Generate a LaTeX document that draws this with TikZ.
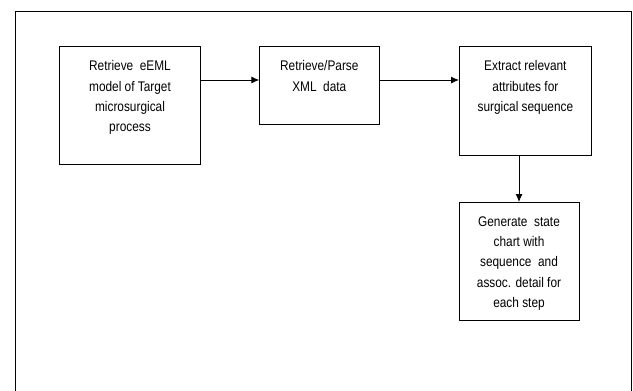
\documentclass[tikz,border=0pt]{standalone}
\usepackage{fontspec}
\setmainfont{Liberation Sans}[FakeStretch=0.85]
\usetikzlibrary{arrows.meta}

\tikzset{
  stepbox/.style={draw, line width=.9bp, inner sep=0pt, outer sep=0pt, anchor=north west},
  steptext/.style={anchor=north, align=center, inner sep=0pt, font=\fontsize{14}{20.4}\selectfont},
  flow/.style={-{Latex[length=8bp,width=7bp]}, line width=.9bp}
}

\begin{document}
\begin{tikzpicture}[x=1bp, y=-1bp]
    \useasboundingbox (0,0) rectangle (633,390);
    % Rahmen.
    \draw[line width=1bp] (15.5,395) -- (15.5,11) -- (631.6,11) -- (631.6,395);

    % Kaesten.
    \node[stepbox, minimum width=140.6bp, minimum height=118bp] (retrieve) at (59.7,46.7) {};
    \node[stepbox, minimum width=120bp, minimum height=77.6bp] (parse) at (259.3,46.7) {};
    \node[stepbox, minimum width=132.7bp, minimum height=109bp] (extract) at (459,46.7) {};
    \node[stepbox, minimum width=120bp, minimum height=118.7bp] (generate) at (459,202) {};

    % Beschriftung.
    \node[steptext] (retrievetext) at ([yshift=-9.7bp]retrieve.north)
        {\strut Retrieve\ \ eEML\\model\ of Target\\microsurgical\\process};
    \node[steptext] (parsetext) at ([yshift=-9.7bp]parse.north)
        {\strut Retrieve/Parse\\XML\ \ data};
    \node[steptext] (extracttext) at ([yshift=-9.7bp]extract.north)
        {\strut Extract relevant\\attributes for\\surgical sequence};
    \node[steptext] (generatetext) at ([yshift=-9.7bp]generate.north)
        {\strut Generate\ \ state\\chart with\\sequence\ \ and\\assoc. detail for\\each step};

    % Pfeile.
    \draw[flow] ([yshift=-33.3bp]retrieve.north east) -- ([yshift=-33.3bp]parse.north west);
    \draw[flow] ([yshift=-33.3bp]parse.north east) -- ([yshift=-33.3bp]extract.north west);
    \draw[flow] (generate.north |- extract.south) -- (generate.north);
\end{tikzpicture}
\end{document}
